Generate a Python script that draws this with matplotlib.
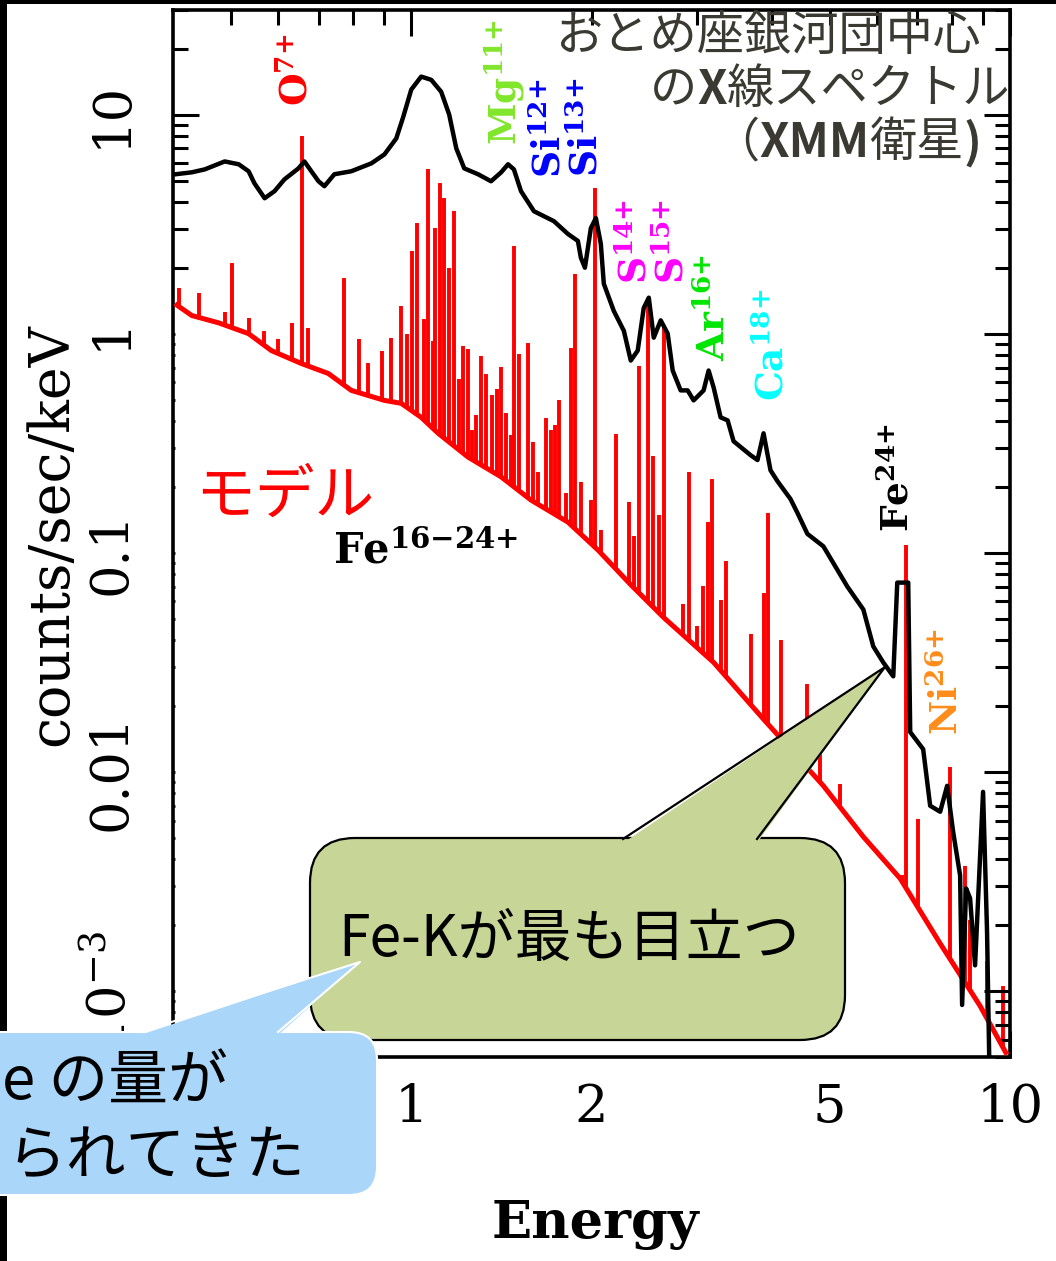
import numpy as np
import matplotlib
matplotlib.use("Agg")
import matplotlib.pyplot as plt
from matplotlib.patches import FancyBboxPatch, Polygon, Rectangle
from matplotlib.lines import Line2D
from matplotlib.transforms import Affine2D
from matplotlib.ticker import NullFormatter

# observed spectrum (black), keV vs counts/sec/keV
obs_energy = [0.404, 0.430, 0.452, 0.488, 0.515, 0.535, 0.547, 0.569, 0.591, 0.614,
              0.648, 0.663, 0.681, 0.700, 0.716, 0.744, 0.794, 0.858, 0.902, 0.944,
              0.970, 1.000, 1.039, 1.080, 1.122, 1.157, 1.189, 1.226, 1.293, 1.359,
              1.413, 1.451, 1.484, 1.525, 1.603, 1.731, 1.827, 1.898, 1.920, 1.950,
              1.995, 2.034, 2.073, 2.097, 2.179, 2.265, 2.326, 2.389, 2.445, 2.493,
              2.541, 2.610, 2.681, 2.733, 2.818, 2.895, 2.962, 3.078, 3.138, 3.199,
              3.286, 3.376, 3.454, 3.687, 3.787, 3.876, 3.981, 4.090, 4.299, 4.416,
              4.588, 4.879, 5.350, 5.689, 5.911, 6.142, 6.383, 6.482, 6.761, 6.813,
              7.161, 7.356, 7.645, 7.852, 8.035, 8.254, 8.318, 8.447, 8.577, 8.743,
              8.878, 9.016, 9.155, 9.261]
obs_counts = [5.34, 5.45, 5.62, 6.11, 5.93, 5.51, 4.86, 4.15, 4.47, 5.06,
              5.68, 6.11, 5.51, 4.96, 4.71, 5.34, 5.51, 5.99, 6.58, 7.78,
              9.79, 13.0, 14.9, 14.4, 12.7, 10.0, 7.01, 5.68, 5.34, 4.96,
              5.45, 5.93, 5.62, 4.47, 3.62, 3.26, 2.85, 2.65, 2.22, 2.00,
              3.03, 3.37, 2.57, 1.69, 1.27, 1.03, 0.754, 0.837, 1.31, 1.46,
              0.959, 1.15, 1.00, 0.679, 0.551, 0.551, 0.496, 0.551, 0.679, 0.568,
              0.415, 0.402, 0.323, 0.279, 0.265, 0.351, 0.238, 0.212, 0.176, 0.152,
              0.122, 0.107, 0.0701, 0.0551, 0.0374, 0.0316, 0.0273, 0.0731, 0.0731, 0.0152,
              0.0127, 0.00701, 0.00658, 0.00864, 0.00534, 0.00337, 0.000864, 0.00294, 0.00265, 0.00131,
              0.00326, 0.00811, 0.00187, 0.0003]

# model continuum (red)
cont_energy = [0.403, 0.430, 0.477, 0.535, 0.584, 0.656, 0.727, 0.794, 0.902, 0.962,
               1.039, 1.109, 1.245, 1.413, 1.585, 1.827, 2.050, 2.326, 2.641, 3.199,
               3.876, 4.879, 5.689, 6.556, 7.642, 8.913, 9.886]
cont_counts = [1.37, 1.21, 1.12, 1.00, 0.837, 0.730, 0.658, 0.551, 0.496, 0.481,
               0.415, 0.351, 0.273, 0.222, 0.174, 0.138, 0.103, 0.0715, 0.0506, 0.0316,
               0.0174, 0.00864, 0.00506, 0.00326, 0.00165, 0.000855, 0.000512]

# model emission lines (red spikes): energy and peak height
line_energy = [0.409, 0.442, 0.488, 0.501, 0.535, 0.567, 0.600, 0.633, 0.656, 0.673,
               0.773, 0.819, 0.848, 0.895, 0.926, 0.962, 0.985, 1.004, 1.023, 1.051,
               1.067, 1.088, 1.096, 1.118, 1.135, 1.157, 1.179, 1.202, 1.221, 1.245,
               1.264, 1.283, 1.308, 1.334, 1.365, 1.391, 1.413, 1.440, 1.468, 1.484,
               1.514, 1.567, 1.597, 1.628, 1.679, 1.711, 1.738, 1.765, 1.813, 1.848,
               1.876, 1.920, 1.995, 2.026, 2.073, 2.197, 2.309, 2.353, 2.399, 2.483,
               2.531, 2.590, 2.641, 2.841, 2.907, 2.997, 3.067, 3.126, 3.175, 3.286,
               3.350, 3.687, 3.876, 3.936, 4.138, 4.588, 4.823, 5.21, 6.607, 6.709,
               7.025, 7.943, 8.414, 8.577, 9.155, 9.735]
line_peak = [1.62, 1.54, 1.25, 2.10, 1.18, 1.03, 0.949, 1.12, 7.94, 1.06,
             1.80, 0.949, 0.738, 0.837, 0.959, 1.34, 1.00, 2.38, 3.20, 1.17,
             5.62, 0.929, 3.03, 4.86, 4.15, 2.00, 3.62, 0.624, 0.882, 0.855,
             0.362, 0.424, 0.794, 0.658, 0.523, 0.562, 0.701, 0.433, 0.344, 2.51,
             0.811, 0.910, 0.320, 0.233, 0.411, 0.362, 0.382, 0.496, 0.187, 0.864,
             1.87, 0.210, 0.174, 4.61, 0.127, 0.347, 0.170, 0.119, 0.715, 1.46,
             0.276, 0.149, 1.09, 0.0586, 0.233, 0.0461, 0.0708, 0.138, 0.217, 0.0612,
             0.0920, 0.0428, 0.0658, 0.152, 0.0398, 0.0251, 0.0123, 0.00882, 0.00337, 0.109,
             0.00612, 0.0105, 0.00374, 0.00210, 0.00137, 0.00105]

ytick_values = [10, 1, 0.1, 0.01, 0.001]
ytick_labels = ["10", "1", "0.1", "0.01", r"$\mathrm{10^{-3}}$"]
xtick_major = [1, 10]
xtick_major_labels = ["1", "10"]
xtick_minor = [0.5, 0.6, 0.7, 0.8, 0.9, 2, 3, 4, 5, 6, 7, 8, 9]
xtick_minor_labels = ["", "", "", "", "", "2", "", "", "5", "", "", "", ""]

plt.rcParams['font.family'] = ['DejaVu Serif']
plt.rcParams['mathtext.fontset'] = 'dejavuserif'
plt.rcParams['mathtext.default'] = 'bf'
JP = ['Noto Sans CJK JP', 'DejaVu Sans']

W, H = 1056, 1261
fig = plt.figure(figsize=(W / 100, H / 100), dpi=100)
# pixel coordinates of the picture, y pointing down
tpx = Affine2D().scale(1.0 / W, -1.0 / H).translate(0, 1) + fig.transFigure

ax = fig.add_axes([173 / W, 1 - 1057 / H, 837 / W, 1047 / H])
ax.set_xscale('log')
ax.set_yscale('log')

red = '#ff0000'
ax.vlines(line_energy, 1e-5, line_peak, color=red, lw=2.8, zorder=1)
ax.fill_between(cont_energy, cont_counts, 1e-5, color='white', lw=0, zorder=2)
ax.plot(cont_energy, cont_counts, color=red, lw=3.6, zorder=3, solid_capstyle='butt')
ax.plot(obs_energy, obs_counts, color='black', lw=3.2, zorder=4)

ax.set_xlim(0.4, 10)
ax.set_ylim(5e-4, 30)
ax.set_xticks(xtick_major, xtick_major_labels)
ax.set_xticks(xtick_minor, xtick_minor_labels, minor=True)
ax.set_yticks(ytick_values, ytick_labels)
ax.yaxis.set_minor_formatter(NullFormatter())
for s in ax.spines.values():
    s.set_linewidth(2.6)
ax.tick_params(which='both', direction='in', top=True, right=True, width=2.2, labelsize=38)
ax.tick_params(which='major', length=19)
ax.tick_params(which='minor', length=10.5)
ax.tick_params(axis='x', which='both', pad=18)
ax.tick_params(axis='y', which='both', pad=26, labelrotation=90)
for t in ax.get_yticklabels():
    t.set_va('center')

fig.text(52, 535, 'counts/sec/keV', transform=tpx, rotation=90, fontsize=40,
         ha='center', va='center')
fig.text(595, 1225, 'Energy', transform=tpx, fontsize=38, fontweight='bold',
         ha='center', va='center')

# ion labels, rotated
ions = [(r'$O^{7{+}}$', red, 297, 70),
        (r'$Mg^{11{+}}$', '#80e62a', 505, 82),
        (r'$Si^{12{+}}$', '#0000ff', 550, 128),
        (r'$Si^{13{+}}$', '#0000ff', 587, 127),
        (r'$S^{14{+}}$', '#ff00ff', 636, 241),
        (r'$S^{15{+}}$', '#ff00ff', 673, 241),
        (r'$Ar^{16{+}}$', '#00e600', 715, 307),
        (r'$Ca^{18{+}}$', '#00ffff', 773, 345),
        (r'$Fe^{24{+}}$', 'black', 898, 478),
        (r'$Ni^{26{+}}$', '#ff8c1a', 948, 682)]
for txt, col, x, y in ions:
    fig.text(x, y, txt, transform=tpx, rotation=90, color=col, fontsize=27,
             ha='center', va='center')
fig.text(333, 552, r'$Fe^{16{-}24{+}}$', transform=tpx, fontsize=30,
         ha='left', va='center')

fig.text(285, 497, 'モデル', transform=tpx, color=red, fontsize=43, family=JP,
         ha='center', va='center')

# title, with bold pieces
tcol = '#3a3a32'


def chain(x, y, pieces):
    prev = fig.text(x, y, pieces[0][0], transform=tpx, fontsize=34, color=tcol,
                    fontweight=pieces[0][1], family=JP, ha='left', va='center')
    for s, w in pieces[1:]:
        prev = ax.annotate(s, xy=(1, 0), xycoords=prev, fontsize=34, color=tcol,
                           fontweight=w, family=JP, ha='left', va='bottom',
                           annotation_clip=False)


chain(555, 37, [('おとめ座銀河団中心', 'normal')])
chain(650, 90, [('の', 'normal'), ('X', 'bold'), ('線スペクトル', 'normal')])
chain(712, 143, [('（', 'normal'), ('XMM', 'bold'), ('衛星', 'normal'), (')', 'bold')])

# slide frame remnants
fig.add_artist(Rectangle((0, 0), 7, H, transform=tpx, color='black', lw=0, zorder=4))
fig.add_artist(Rectangle((0, 0), W, 4, transform=tpx, color='black', lw=0, zorder=4))

# green callout
green = '#c7d597'
fig.add_artist(FancyBboxPatch((310, 838), 535, 202, boxstyle='round,pad=0,rounding_size=45',
                              transform=tpx, fc=green, ec='black', lw=1.6, zorder=5))
fig.add_artist(Polygon([(623, 843), (885, 667), (757, 843)], closed=True, transform=tpx,
                       fc=green, ec='none', zorder=5))
fig.add_artist(Line2D([623, 885, 757], [839, 667, 839], transform=tpx, color='black',
                      lw=1.6, zorder=5))
fig.text(338, 940, 'Fe-Kが最も目立つ', transform=tpx, fontsize=41, family=JP,
         ha='left', va='center', zorder=6)

# blue callout
blue = '#aad6fa'
fig.add_artist(FancyBboxPatch((-40, 1032), 417, 163, boxstyle='round,pad=0,rounding_size=28',
                              transform=tpx, fc=blue, ec='white', lw=1.5, zorder=7))
fig.add_artist(Polygon([(140, 1035), (360, 962), (278, 1035)], closed=True, transform=tpx,
                       fc=blue, ec='none', zorder=7))
fig.add_artist(Line2D([140, 360, 278], [1032, 962, 1032], transform=tpx, color='white',
                      lw=1.5, zorder=7))
fig.text(2, 1083, 'e の量が', transform=tpx, fontsize=43, family=JP,
         ha='left', va='center', zorder=8)
fig.text(6, 1157, 'られてきた', transform=tpx, fontsize=43, family=JP,
         ha='left', va='center', zorder=8)

fig.savefig('out.png', dpi=100)
